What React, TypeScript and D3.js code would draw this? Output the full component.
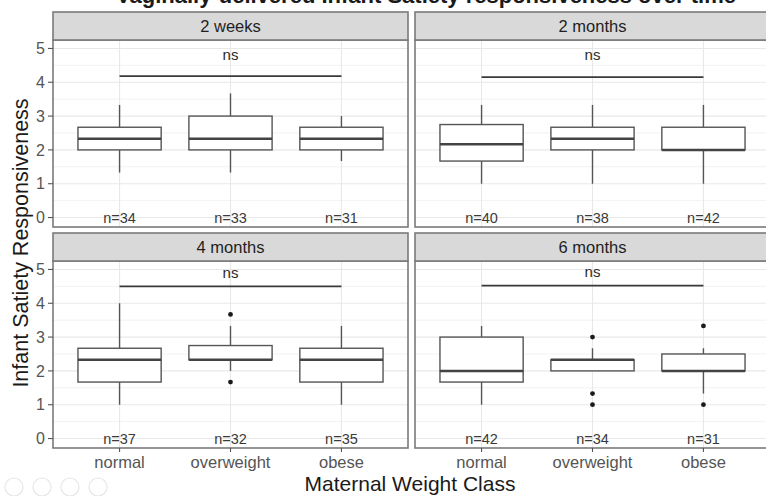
import React from "react";
import * as d3 from "d3";

// Weight classes on the x axis and the four time points (facets)
const categories = ["normal", "overweight", "obese"];
const timepoints = ["2 weeks", "2 months", "4 months", "6 months"];

// Box statistics per class: [lower whisker, Q1, median, Q3, upper whisker]
const stats2w = [
  [1.33, 2.0, 2.33, 2.67, 3.33],
  [1.33, 2.0, 2.33, 3.0, 3.67],
  [1.67, 2.0, 2.33, 2.67, 3.0],
];
const stats2m = [
  [1.0, 1.67, 2.17, 2.75, 3.33],
  [1.0, 2.0, 2.33, 2.67, 3.33],
  [1.0, 2.0, 2.0, 2.67, 3.33],
];
const stats4m = [
  [1.0, 1.67, 2.33, 2.67, 4.0],
  [2.0, 2.33, 2.33, 2.75, 3.33],
  [1.0, 1.67, 2.33, 2.67, 3.33],
];
const stats6m = [
  [1.0, 1.67, 2.0, 3.0, 3.33],
  [2.0, 2.0, 2.33, 2.33, 2.67],
  [1.33, 2.0, 2.0, 2.5, 2.67],
];
const boxStats = [stats2w, stats2m, stats4m, stats6m];

// Outlying observations per class
const outliers2w = [[], [], []];
const outliers2m = [[], [], []];
const outliers4m = [[], [3.67, 1.67], []];
const outliers6m = [[], [3.0, 1.33, 1.0], [3.33, 1.0]];
const outliers = [outliers2w, outliers2m, outliers4m, outliers6m];

// Sample sizes
const counts = [
  [34, 33, 31],
  [40, 38, 42],
  [37, 32, 35],
  [42, 34, 31],
];

// Group comparison bracket height and label height
const sigBar = [4.18, 4.15, 4.5, 4.52];
const sigLabelY = [4.8, 4.8, 4.88, 4.9];
const sigText = ["ns", "ns", "ns", "ns"];

const yTicks = [0, 1, 2, 3, 4, 5];
const yMinor = [0.5, 1.5, 2.5, 3.5, 4.5];

const W = 766;
const H = 496;
const FONT = "'Liberation Sans', Arial, Helvetica, sans-serif";

const colLeft = [53, 415];
const panelW = 355;
const rowStripTop = [12, 233];
const stripH = 28;
const rowBottom = [227, 448];

const borderColor = "#7a7a7a";
const boxColor = "#555555";

function Panel({ idx }: { idx: number }) {
  const col = idx % 2;
  const row = Math.floor(idx / 2);
  const left = colLeft[col];
  const right = left + panelW;
  const top = rowStripTop[row] + stripH;
  const bottom = rowBottom[row];

  const x = d3.scaleLinear().domain([0.4, 3.6]).range([left, right]);
  const y = d3.scaleLinear().domain([-0.28, 5.25]).range([bottom, top]);
  const boxHalf = x(1.375) - x(1);

  const stats = boxStats[idx];
  const outs = outliers[idx];
  const n = counts[idx];

  return (
    <g>
      {/* panel background and grid */}
      <rect x={left} y={top} width={panelW} height={bottom - top} fill="#fff" />
      {yMinor.map((v) => (
        <line key={"mn" + v} x1={left} x2={right} y1={y(v)} y2={y(v)} stroke="#f1f1f1" strokeWidth={0.9} />
      ))}
      {yTicks.map((v) => (
        <line key={"mj" + v} x1={left} x2={right} y1={y(v)} y2={y(v)} stroke="#e8e8e8" strokeWidth={1.1} />
      ))}
      {categories.map((c, i) => (
        <line key={"vx" + c} x1={x(i + 1)} x2={x(i + 1)} y1={top} y2={bottom} stroke="#e8e8e8" strokeWidth={1.1} />
      ))}

      {/* boxplots */}
      {stats.map((s, i) => {
        const cx = x(i + 1);
        const [lo, q1, med, q3, hi] = s;
        return (
          <g key={"b" + i}>
            <line x1={cx} x2={cx} y1={y(q3)} y2={y(hi)} stroke={boxColor} strokeWidth={1.4} />
            <line x1={cx} x2={cx} y1={y(q1)} y2={y(lo)} stroke={boxColor} strokeWidth={1.4} />
            <rect
              x={cx - boxHalf}
              y={y(q3)}
              width={boxHalf * 2}
              height={Math.max(y(q1) - y(q3), 0.1)}
              fill="#fff"
              stroke={boxColor}
              strokeWidth={1.4}
            />
            <line x1={cx - boxHalf} x2={cx + boxHalf} y1={y(med)} y2={y(med)} stroke="#444" strokeWidth={2.5} />
            {outs[i].map((o, k) => (
              <circle key={k} cx={cx} cy={y(o)} r={2.4} fill="#1a1a1a" />
            ))}
            <text
              x={cx}
              y={y(0)}
              dy="0.36em"
              textAnchor="middle"
              fontFamily={FONT}
              fontSize={14.5}
              fill="#3a3a3a"
            >
              {"n=" + n[i]}
            </text>
          </g>
        );
      })}

      {/* comparison bracket */}
      <line x1={x(1)} x2={x(3)} y1={y(sigBar[idx])} y2={y(sigBar[idx])} stroke="#3a3a3a" strokeWidth={1.7} />
      <text
        x={x(2)}
        y={y(sigLabelY[idx])}
        dy="0.3em"
        textAnchor="middle"
        fontFamily={FONT}
        fontSize={15}
        fill="#2a2a2a"
      >
        {sigText[idx]}
      </text>

      {/* panel border */}
      <rect x={left} y={top} width={panelW} height={bottom - top} fill="none" stroke={borderColor} strokeWidth={1.6} />

      {/* strip */}
      <rect
        x={left}
        y={rowStripTop[row]}
        width={panelW}
        height={stripH}
        fill="#d9d9d9"
        stroke={borderColor}
        strokeWidth={1.6}
      />
      <text
        x={(left + right) / 2}
        y={rowStripTop[row] + stripH / 2}
        dy="0.36em"
        textAnchor="middle"
        fontFamily={FONT}
        fontSize={16.5}
        fill="#1f1f1f"
      >
        {timepoints[idx]}
      </text>

      {/* y axis on the left column */}
      {col === 0 &&
        yTicks.map((v) => (
          <g key={"yt" + v}>
            <line x1={left - 5} x2={left} y1={y(v)} y2={y(v)} stroke="#555" strokeWidth={1.1} />
            <text
              x={left - 8}
              y={y(v)}
              dy="0.36em"
              textAnchor="end"
              fontFamily={FONT}
              fontSize={16}
              fill="#555"
            >
              {v}
            </text>
          </g>
        ))}

      {/* x axis on the bottom row */}
      {row === 1 &&
        categories.map((c, i) => (
          <g key={"xt" + c}>
            <line x1={x(i + 1)} x2={x(i + 1)} y1={bottom} y2={bottom + 4} stroke="#555" strokeWidth={1.1} />
            <text
              x={x(i + 1)}
              y={bottom + 20}
              textAnchor="middle"
              fontFamily={FONT}
              fontSize={16.5}
              fill="#555"
            >
              {c}
            </text>
          </g>
        ))}
    </g>
  );
}

export default function App() {
  return (
    <svg
      width={W}
      height={H}
      viewBox={`0 0 ${W} ${H}`}
      style={{ position: "absolute", left: 0, top: 0, background: "#fff" }}
    >
      <rect width={W} height={H} fill="#fff" />
      <text
        x={426}
        y={3}
        textAnchor="middle"
        fontFamily={FONT}
        fontWeight="bold"
        fontSize={22}
        fill="#1a1a1a"
      >
        Vaginally-delivered Infant Satiety responsiveness over time
      </text>
      {timepoints.map((t, i) => (
        <Panel key={t} idx={i} />
      ))}
      <text
        transform="translate(28,243) rotate(-90)"
        textAnchor="middle"
        fontFamily={FONT}
        fontSize={21.5}
        fill="#1a1a1a"
      >
        Infant Satiety Responsiveness
      </text>
      <text x={410} y={491} textAnchor="middle" fontFamily={FONT} fontSize={21} fill="#1a1a1a">
        Maternal Weight Class
      </text>
      {/* faint viewer controls in the lower-left corner */}
      {[14, 42, 70, 98].map((cx) => (
        <circle key={cx} cx={cx} cy={487} r={9} fill="none" stroke="#e6e6e6" strokeWidth={1.2} />
      ))}
    </svg>
  );
}
